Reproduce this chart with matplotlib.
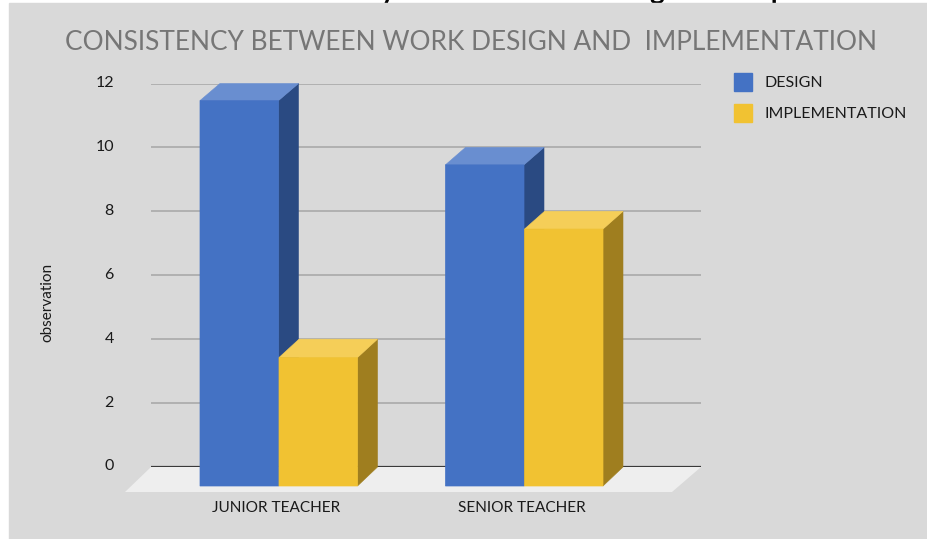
import matplotlib
matplotlib.use("Agg")
import matplotlib.pyplot as plt
from matplotlib.patches import Polygon, Rectangle

categories = ["JUNIOR TEACHER", "SENIOR TEACHER"]
design = [12, 10]
implementation = [4, 8]
yticks = [0, 2, 4, 6, 8, 10, 12]

W, H = 928, 539
BG = "#D9D9D9"
plt.rcParams["font.family"] = ["Lato", "DejaVu Sans"]
fig = plt.figure(figsize=(W/100, H/100), dpi=100, facecolor="white")

# cut-off heading above the chart, only its descenders show
fig.text(245/W, 1-(-1.5)/H, "Consistency between Work Design and Implementation",
         ha="left", va="baseline", fontsize=20, fontweight="bold", color="black", zorder=-6)

# gray chart background
fig.add_artist(Rectangle((9.5/W, 0), (W-9.5)/W, (H-2.5)/H, transform=fig.transFigure, color=BG, zorder=-5))

L, R, T, B = 151, 701, 83.5, 467
ax = fig.add_axes([L/W, 1-B/H, (R-L)/W, (B-T)/H])
ax.set_facecolor("none")
PX_X = 245.5
ax.set_xlim((L-278.5)/PX_X, (R-278.5)/PX_X)
ax.set_ylim(0, 12)
for s in ax.spines.values():
    s.set_visible(False)
PX_Y = (B-T)/12
dx = 20/PX_X
dy = 19/PX_Y
fs = 1.005
w = 78.5/PX_X
gap = 0.5/PX_X

for t in yticks:
    ax.axhline(t, color="#3A3A3A" if t == 0 else "#A6A6A6", lw=1.6 if t == 0 else 1.1, zorder=1)
ax.set_xticks([])
ax.set_yticks(yticks)
ax.set_yticklabels([])
for t in yticks:
    ax.annotate(str(t), (0, t), xycoords=("axes fraction", "data"), xytext=(114-L, 0.5), textcoords="offset pixels",
                ha="right", va="center", fontsize=11.5, color="#1a1a1a", annotation_clip=False)
ax.tick_params(axis="y", length=0)
fig.text(47.5/W, 1-302/H, "observation", rotation=90, ha="center", va="center", fontsize=11, color="#1a1a1a")

# floor
x0, x1 = ax.get_xlim()
ax.add_patch(Polygon([(x0, 0), (x1, 0), (x1-29/PX_X, -25/PX_Y), (x0-26/PX_X, -25/PX_Y)],
                     closed=True, fc="#EEEEEE", ec="none", clip_on=False, zorder=2))

def bar3d(xl, v, front, top, side):
    xr = xl + w
    yb = -dy
    yt = -dy + fs*v
    ax.add_patch(Polygon([(xr, yb), (xr+dx, 0), (xr+dx, v), (xr, yt)], closed=True, fc=side, ec=side, lw=0.4, clip_on=False, zorder=3))
    ax.add_patch(Polygon([(xl, yt), (xr, yt), (xr+dx, v), (xl+dx, v)], closed=True, fc=top, ec=top, lw=0.4, clip_on=False, zorder=3))
    ax.add_patch(Rectangle((xl, yb), w, yt-yb, fc=front, ec=front, lw=0.5, snap=False, clip_on=False, zorder=4))

for i in range(len(categories)):
    bar3d(i-w, design[i], "#4472C4", "#698ED0", "#2A4A82")
    bar3d(i+gap, implementation[i], "#F1C232", "#F5CE58", "#9F7E1F")
    fig.text((276+i*246)/W, 1-508/H, categories[i], ha="center", va="center", fontsize=11.1, color="#1a1a1a")

fig.text(471/W, 1-43/H, "CONSISTENCY BETWEEN WORK DESIGN AND  IMPLEMENTATION",
         ha="center", va="center", fontsize=18.9, color="#767676")

for name, col, yp in [("DESIGN", "#4472C4", 82), ("IMPLEMENTATION", "#F1C232", 113)]:
    fig.add_artist(Rectangle((734/W, 1-(yp+9)/H), 18/W, 18/H, transform=fig.transFigure, color=col))
    fig.text(765/W, 1-(yp+0.5)/H, name, ha="left", va="center", fontsize=11.5, color="#1a1a1a")

fig.savefig("out.png", dpi=100, facecolor="white")
